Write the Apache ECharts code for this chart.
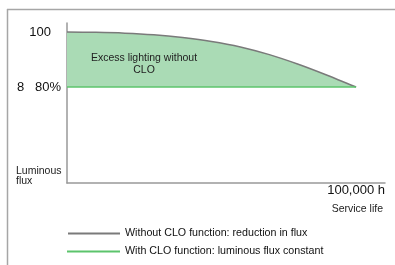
<!DOCTYPE html>
<html>
<head>
<meta charset="utf-8">
<script src="https://cdn.jsdelivr.net/npm/echarts@6/dist/echarts.min.js"></script>
<style>
html,body{margin:0;padding:0;background:#fff;}
#c{width:395px;height:265px;}
</style>
</head>
<body>
<div id="c"></div>
<script>
// Data
const hours = [0, 10000, 20000, 30000, 40000, 50000, 60000, 70000, 80000, 90000, 100000];
const fluxWithoutCLO = [100, 99.9, 99.6, 99.0, 98.0, 96.6, 94.6, 91.8, 88.3, 84.3, 80.0];
const cloHours = [0, 100000];
const fluxWithCLO = [80, 80];
const yTickValues = [80, 100];
const xTickValues = [100000];
const seriesNames = ['Without CLO function: reduction in flux', 'With CLO function: luminous flux constant'];
const areaLabel = 'Excess lighting without\nCLO';

const FONT = '"Liberation Sans", Arial, sans-serif';
const chart = echarts.init(document.getElementById('c'), null, {renderer: 'canvas'});

const gray = '#7a7a7a';
const green = '#5cc46c';

chart.setOption({
  animation: false,
  backgroundColor: '#fff',
  textStyle: {fontFamily: FONT},
  grid: {left: 67, right: 10, top: 23, bottom: 82, containLabel: false},
  xAxis: {
    type: 'value', min: 0, max: 110000,
    axisLine: {show: true, lineStyle: {color: '#999', width: 1.5}},
    axisTick: {show: false},
    splitLine: {show: false},
    axisLabel: {
      customValues: xTickValues, margin: 1,
      fontFamily: FONT, fontSize: 13, color: '#111',
      formatter: v => (v / 1000) + ',000 h'
    }
  },
  yAxis: {
    type: 'value', min: 45.1, max: 103.3,
    axisLine: {show: true, lineStyle: {color: '#999', width: 1.5}},
    axisTick: {show: false},
    splitLine: {show: false},
    axisLabel: {
      customValues: yTickValues, margin: 6,
      fontFamily: FONT, fontSize: 13, color: '#111',
      formatter: v => v === 100 ? '{a|100}' : '{e|8}{b|80%}',
      rich: {
        a: {fontFamily: FONT, fontSize: 13, color: '#111', padding: [0, 10, 0, 0]},
        e: {fontFamily: FONT, fontSize: 13, color: '#111', width: 18, align: 'left'},
        b: {fontFamily: FONT, fontSize: 13, color: '#111'}
      }
    }
  },
  legend: [
    {
      left: 68, top: 228, orient: 'horizontal', padding: 0,
      icon: 'rect', itemWidth: 52, itemHeight: 2,
      data: [seriesNames[0]],
      textStyle: {fontFamily: FONT, fontSize: 10.7, color: '#111'}
    },
    {
      left: 67, top: 246, orient: 'horizontal', padding: 0,
      icon: 'rect', itemWidth: 53, itemHeight: 2,
      data: [seriesNames[1]],
      textStyle: {fontFamily: FONT, fontSize: 10.7, color: '#111'}
    }
  ],
  series: [
    {
      name: seriesNames[0], type: 'line', smooth: 0.25,
      data: hours.map((h, i) => [h, fluxWithoutCLO[i]]),
      symbol: 'none', color: gray,
      itemStyle: {color: gray},
      lineStyle: {color: gray, width: 1.5},
      areaStyle: {origin: 80, color: '#aadbb5', opacity: 1},
      z: 2
    },
    {
      name: seriesNames[1], type: 'line',
      data: cloHours.map((h, i) => [h, fluxWithCLO[i]]),
      symbol: 'none', color: green,
      itemStyle: {color: green},
      lineStyle: {color: green, width: 1.5},
      z: 3
    }
  ],
  graphic: [
    {type: 'line', z: 10, shape: {x1: 7, y1: 9.5, x2: 395, y2: 9.5}, style: {stroke: '#a6a6a6', lineWidth: 1.5}},
    {type: 'line', z: 10, shape: {x1: 7.5, y1: 9, x2: 7.5, y2: 265}, style: {stroke: '#a6a6a6', lineWidth: 1.5}},
    {type: 'text', z: 10, x: 144, y: 64, style: {text: areaLabel, font: '10.5px ' + FONT, fill: '#222', align: 'center', verticalAlign: 'middle', lineHeight: 12.5}},
    {type: 'text', z: 10, x: 16, y: 176, style: {text: 'Luminous\nflux', font: '10.5px ' + FONT, fill: '#222', align: 'left', verticalAlign: 'middle', lineHeight: 10}},
    {type: 'text', z: 10, x: 383, y: 209, style: {text: 'Service life', font: '10.5px ' + FONT, fill: '#222', align: 'right', verticalAlign: 'middle'}}
  ]
});
</script>
</body>
</html>
